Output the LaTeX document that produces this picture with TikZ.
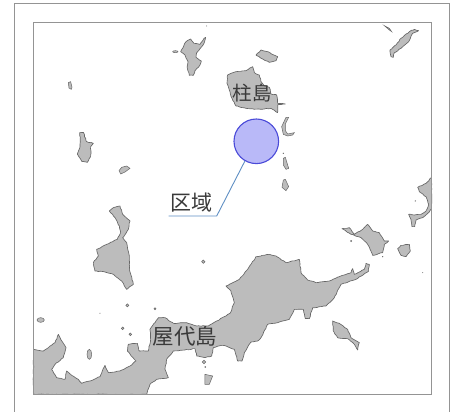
\documentclass[tikz,border=0pt]{standalone}
\usepackage{fontspec}
\usetikzlibrary{decorations.pathmorphing}
\newfontfamily\jpfont{Noto Sans CJK JP}
\tikzset{
  land/.style={fill=landgray,draw=coast,line width=.65pt,line join=round,decorate,decoration={random steps,segment length=2.2pt,amplitude=.35pt}},
  speck/.style={fill=landgray,draw=coast,line width=.5pt},
  frameline/.style={draw=framegray,line width=.9pt},
  maplabel/.style={font=\jpfont\fontsize{#1}{#1}\selectfont,text=labelink,inner sep=0pt},
  q1/.style={shift={(0,0)},scale=.33333},
  q2/.style={shift={(226,0)},scale=.33333},
  q3/.style={shift={(0,206)},scale=.33333},
  q4/.style={shift={(226,206)},scale=.33333}
}
\definecolor{landgray}{HTML}{BCBCBC}
\definecolor{coast}{HTML}{666666}
\definecolor{framegray}{HTML}{949494}
\definecolor{labelink}{HTML}{3A3A3A}
\definecolor{areafill}{HTML}{B9B9F8}
\definecolor{areadraw}{HTML}{4A4AD8}
\definecolor{leader}{HTML}{5F8FC4}
\begin{document}
\begin{tikzpicture}[x=1pt,y=-1pt]
\pgfmathsetseed{7}
\useasboundingbox (0,0) rectangle (453,412);
\fill[white] (0,0) rectangle (453,412);
% outer frame (open at the bottom)
\draw[frameline] (14.5,412) -- (14.5,3.5) -- (449.5,3.5) -- (449.5,412);
% Q1
\begin{scope}[q1]
\draw[land] (542,155)--(558,125)--(572,117)--(582,130)--(600,133)--(612,115)--(617,112)--(612,130)--(590,158)--(588,172)--(604,183)--(600,195)--(585,212)--(580,226)--(568,226)--(562,205)--(564,185)--(555,165)--cycle;
\draw[speck] (526,155) ellipse [x radius=8,y radius=3];
\fill[coast] (620,78) circle (1.5);
\draw[speck] (205,248)--(212,245)--(216,262)--(214,268)--(207,264)--cycle;
\draw[land] (240,397)--(250,397)--(260,425)--(280,430)--(272,440)--(272,470)--(262,487)--(245,484)--(232,462)--(240,440)--cycle;
\draw[speck] (357,512)--(365,502)--(380,498)--(390,505)--(375,516)--(362,522)--cycle;
\end{scope}
% Q2
\begin{scope}[q2]
\draw[land] (90,165)--(105,150)--(125,155)--(155,170)--(150,182)--(130,187)--(110,177)--cycle;
\draw[land] (5,225)--(30,215)--(60,212)--(80,200)--(85,218)--(100,225)--(105,245)--(115,258)--(130,262)--(135,282)--(152,285)--(155,310)--(178,312)--(155,315)--(155,338)--(135,325)--(105,328)--(60,325)--(30,318)--(18,295)--(10,270)--(3,250)--cycle;
\draw[speck] (180,352)--(188,352)--(178,372)--(178,392)--(185,402)--(205,398)--(200,405)--(185,408)--(172,403)--(167,380)--cycle;
\fill[coast] (172,460) circle (2);
\draw[speck] (172,475)--(178,472)--(188,505)--(180,508)--(172,495)--cycle;
\draw[speck] (172,540)--(178,538)--(188,560)--(180,572)--(168,562)--cycle;
\draw[land] (492,150)--(510,135)--(525,115)--(550,95)--(565,88)--(578,92)--(560,100)--(548,125)--(525,145)--(505,158)--(502,172)--(495,170)--cycle;
\draw[speck] (475,77)--(490,85)--(497,95)--(490,90)--cycle;
\fill[coast] (568,603) circle (2);
\end{scope}
% Q3 with the main land
\begin{scope}[q3]
\draw[land] (328,15)--(340,5)--(360,0)--(368,25)--(390,45)--(385,70)--(368,95)--(380,110)--(388,150)--(388,190)--(400,235)--(380,250)--(365,225)--(340,205)--(315,198)--(285,195)--(280,170)--(295,150)--(290,130)--(320,115)--(352,100)--(362,80)--(358,60)--(345,35)--cycle;
\draw[speck] (122,342) ellipse [x radius=11,y radius=7];
\draw[speck] (382,298) circle (4.5);
\draw[speck] (465,308) circle (3);
\draw[speck] (610,167) circle (5);
\draw[speck] (368,367) circle (4);
\draw[speck] (391,385) circle (4);
\fill[coast!60] (300,322) circle (2);
\draw[speck] (268,445) ellipse [x radius=7,y radius=15];
\draw[speck] (612,468) circle (5);
\fill[coast] (616,483) circle (2.5);
\draw[speck] (615,505)--(638,510)--(628,535)--(615,535)--cycle;
\draw[land] (100,430)--(130,435)--(145,425)--(165,410)--(175,385)--(182,400)--(198,425)--(190,455)--(165,475)--(155,490)--(170,515)--(195,520)--(200,495)--(215,508)--(235,520)--(245,532)--(270,525)--(300,512)--(315,478)--(325,500)--(360,495)--(390,480)--(408,465)--(382,435)--(385,415)--(412,412)--(418,435)--(445,435)--(452,400)--(450,370)--(475,335)--(495,335)--(520,352)--(560,350)--(590,360)--(625,360)--(650,345)--(678,330)--(690,322)--(703,290)--(693,255)--(678,240)--(718,220)--(743,190)--(768,152)--(808,145)--(828,150)--(858,170)--(898,160)--(903,200)--(923,222)--(948,230)--(988,225)--(1018,212)--(1053,200)--(1058,188)--(1063,205)--(1093,190)--(1098,172)--(1108,175)--(1106,195)--(1068,220)--(1023,235)--(1003,275)--(978,300)--(938,305)--(928,338)--(916,338)--(910,310)--(883,310)--(868,340)--(848,345)--(833,350)--(803,355)--(783,395)--(773,405)--(753,408)--(733,440)--(726,465)--(713,465)--(703,430)--(678,420)--(665,418)--(640,425)--(635,450)--(615,455)--(590,450)--(585,428)--(555,432)--(520,435)--(500,460)--(495,490)--(505,515)--(470,520)--(450,535)--(440,565)--(100,565)--cycle;
\end{scope}
% Q4
\begin{scope}[q4]
\draw[land] (348,68)--(370,65)--(385,85)--(410,70)--(425,55)--(440,75)--(460,80)--(475,105)--(488,105)--(475,115)--(470,140)--(440,148)--(425,115)--(405,95)--(375,85)--cycle;
\fill[coast] (375,105) circle (3);
\fill[coast] (470,152) circle (2);
\draw[land] (515,128)--(525,118)--(550,115)--(553,135)--(540,152)--(525,148)--cycle;
\fill[coast] (590,200) circle (1.5);
\draw[land] (320,345)--(340,352)--(365,370)--(375,395)--(400,410)--(395,432)--(385,415)--(365,398)--(335,395)--(322,375)--cycle;
\draw[land] (617,-86)--(600,-68)--(575,-56)--(580,-43)--(600,-28)--(608,-5)--(600,15)--(585,25)--(565,27)--(548,25)--(555,40)--(558,62)--(566,62)--(570,42)--(590,35)--(610,18)--(617,8)--cycle;
\end{scope}
% inner frame
\draw[frameline] (33,22.5) rectangle (431.5,394);
% labels
\node[maplabel=19.5] (hashira) at (252,93) {柱島};
\node[maplabel=21.5] (yashiro) at (185,336) {屋代島};
\node[maplabel=21] (kuiki) at (191,202.5) {区域};
% area circle and leader
\node[circle,minimum size=44.6pt,inner sep=0pt,fill=areafill,draw=areadraw,line width=1.1pt] (area) at (256.3,141.3) {};
\coordinate (elbow) at (216.7,216);
\coordinate (tail) at (168.5,216);
\draw[leader,line width=.9pt] (area.240) -- (elbow) -- (tail);
\end{tikzpicture}
\end{document}
